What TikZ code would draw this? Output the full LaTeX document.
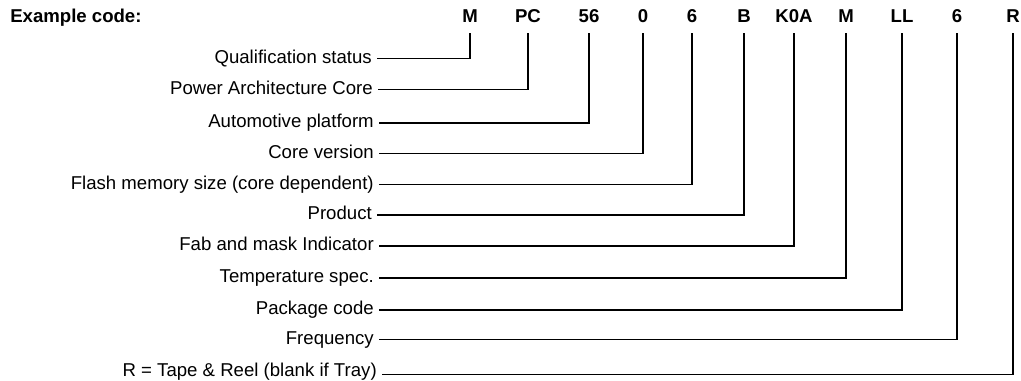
\documentclass[tikz,border=0pt]{standalone}
\usepackage{fontspec}
\setmainfont{Liberation Sans}
\begin{document}
\begin{tikzpicture}[x=0.75pt,y=-0.75pt,
  every node/.style={font=\fontsize{13.95}{16}\selectfont},
  codebox/.style={anchor=base,inner xsep=0pt,inner ysep=7.9pt,font=\fontsize{13.95}{16}\selectfont\bfseries},
  labelbox/.style={anchor=base east,inner sep=0pt},
  conn/.style={line width=0.95pt}]
\useasboundingbox (0,0) rectangle (1021,381);
\node[anchor=base west,inner sep=0pt,font=\fontsize{13.95}{16}\selectfont\bfseries] (ex) at (10,22.5) {Example code:};
\foreach \n/\x/\t in {1/470/M,2/528/PC,3/589/56,4/643/0,5/692/6,6/744/B,7/794/K0A,8/846/M,9/902/LL,10/957/6,11/1013/R}
  \node[codebox] (c\n) at (\x,22.5) {\t};
\foreach \n/\y/\t/\s/\o in {1/58.5/Qualification status/377/4.8,
  2/89.5/Power Architecture Core/378/4.8,
  3/123/Automotive platform/379/4.8,
  4/153.5/Core version/379/4.8,
  5/184.5/Flash memory size (core dependent)/379/4.8,
  6/215/Product/377/4.8,
  7/246/Fab and mask Indicator/379/4.8,
  8/278/Temperature spec./379/4.8,
  9/310/Package code/379/4.8,
  10/339.5/Frequency/379/4.8,
  11/374.5/R = Tape \& Reel (blank if Tray)/382/2}{
  \node[labelbox] (l\n) at (\s-5,\y+\o) {\t};
  \coordinate (s\n) at (\s,\y);
  \draw[conn] (c\n.south) |- (s\n);
}
\end{tikzpicture}
\end{document}
